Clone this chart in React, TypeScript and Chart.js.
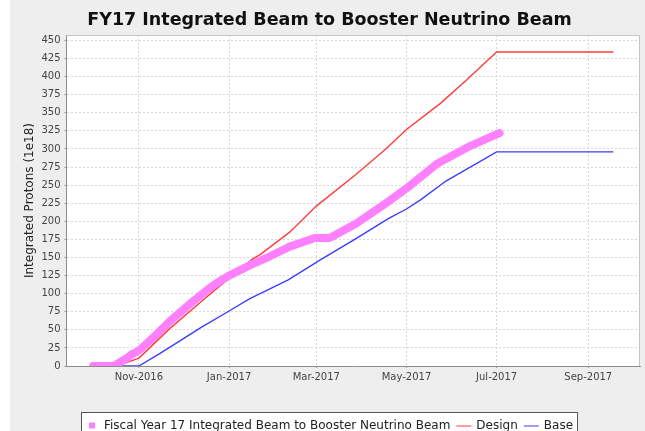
import { useEffect, useRef } from "react";
import { Chart, registerables } from "chart.js";

Chart.register(...registerables);

const titleText = "FY17 Integrated Beam to Booster Neutrino Beam";
const yAxisTitle = "Integrated Protons (1e18)";

const beamLabel = "Fiscal Year 17 Integrated Beam to Booster Neutrino Beam";
const beamDates = [
  "2016-10-01", "2016-10-15", "2016-10-24", "2016-10-27", "2016-10-30", "2016-11-02",
  "2016-11-11", "2016-11-22", "2016-12-08", "2016-12-19", "2016-12-27", "2017-01-02",
  "2017-01-15", "2017-01-29", "2017-02-11", "2017-02-28", "2017-03-10", "2017-03-28",
  "2017-04-15", "2017-05-02", "2017-05-08", "2017-05-22", "2017-06-13", "2017-07-03",
];
const beamValues = [
  0, 0, 11, 16, 19, 23,
  40, 62, 90, 108, 119, 126,
  139, 152, 165, 177, 177, 197,
  222, 247, 257, 280, 304, 322,
];

const designLabel = "Design";
const designDates = [
  "2016-10-01", "2016-10-17", "2016-11-01", "2016-11-22", "2016-12-12", "2016-12-30",
  "2017-01-12", "2017-01-17", "2017-01-22", "2017-02-11", "2017-03-01", "2017-03-28",
  "2017-04-17", "2017-05-01", "2017-05-24", "2017-06-11", "2017-07-01", "2017-09-18",
];
const designValues = [
  0, 0, 11, 52, 87, 118,
  140, 148, 154, 185, 221, 265,
  300, 327, 363, 396, 434, 434,
];

const baseLabel = "Base";
const baseDates = [
  "2016-10-01", "2016-11-01", "2016-11-15", "2016-11-29", "2016-12-12", "2017-01-01",
  "2017-01-15", "2017-01-22", "2017-02-10", "2017-03-04", "2017-03-27", "2017-04-19",
  "2017-05-01", "2017-05-10", "2017-05-28", "2017-07-01", "2017-09-18",
];
const baseValues = [
  0, 0, 17, 35, 52, 76,
  93, 100, 119, 147, 175, 204,
  217, 229, 256, 296, 296,
];

const xTickDates = ["2016-11-01", "2017-01-01", "2017-03-01", "2017-05-01", "2017-07-01", "2017-09-01"];
const monthNames = ["Jan", "Feb", "Mar", "Apr", "May", "Jun", "Jul", "Aug", "Sep", "Oct", "Nov", "Dec"];
const yTickValues = [0, 25, 50, 75, 100, 125, 150, 175, 200, 225, 250, 275, 300, 325, 350, 375, 400, 425, 450];
const xAxisStart = "2016-09-13";
const xAxisEnd = "2017-10-06";
const yAxisMin = 0;
const yAxisMax = 457.5;

const DAY = 86400000;
const toDay = (s: string) => {
  const [y, m, d] = s.split("-").map(Number);
  return Date.UTC(y, m - 1, d) / DAY;
};
const fmtDay = (v: number) => {
  const dt = new Date(Math.round(v) * DAY);
  return `${monthNames[dt.getUTCMonth()]}-${dt.getUTCFullYear()}`;
};
const pts = (dates: string[], vals: number[]) => dates.map((d, i) => ({ x: toDay(d), y: vals[i] }));

const FONT = "'DejaVu Sans', sans-serif";
const PINK = "#ff80ff";
const RED = "#ff3c3c";
const BLUE = "#3c3cff";
const CENTER_X = 329.5;

export default function App() {
  const ref = useRef<HTMLCanvasElement>(null);
  useEffect(() => {
    document.body.style.margin = "0";
    const canvas = ref.current!;
    const decor = {
      id: "decor",
      beforeDraw(chart: any) {
        const { ctx, width, height, chartArea: a } = chart;
        ctx.save();
        ctx.fillStyle = "#ffffff";
        ctx.fillRect(0, 0, width, height);
        ctx.fillStyle = "#eeeeee";
        ctx.fillRect(10, 0, width - 10, height);
        ctx.fillStyle = "#ffffff";
        ctx.fillRect(a.left, a.top, a.right - a.left, a.bottom - a.top);
        ctx.restore();
      },
      afterDraw(chart: any) {
        const { ctx, chartArea: a } = chart;
        ctx.save();
        ctx.strokeStyle = "#c4c4c4";
        ctx.lineWidth = 1;
        ctx.beginPath();
        ctx.moveTo(a.left, a.top + 0.5);
        ctx.lineTo(a.right - 0.5, a.top + 0.5);
        ctx.lineTo(a.right - 0.5, a.bottom);
        ctx.stroke();
        ctx.fillStyle = "#111";
        ctx.font = `bold 17.5px ${FONT}`;
        ctx.textAlign = "center";
        ctx.textBaseline = "middle";
        ctx.fillText(titleText, CENTER_X, 20);
        const ds = chart.data.datasets;
        ctx.font = `12px ${FONT}`;
        ctx.textAlign = "left";
        const w0 = ctx.measureText(ds[0].label).width;
        const w1 = ctx.measureText(ds[1].label).width;
        const w2 = ctx.measureText(ds[2].label).width;
        const padL = 7.5, sq = 6, gapSq = 9, gapLine = 6, lineLen = 15, gapTxt = 5, padR = 4.5;
        const total = padL + sq + gapSq + w0 + gapLine + lineLen + gapTxt + w1 + gapLine + lineLen + gapTxt + w2 + padR;
        const bx = Math.round(CENTER_X - total / 2) + 0.5;
        const by = 412.5;
        const cy = 425.5;
        ctx.fillStyle = "#ffffff";
        ctx.fillRect(bx, by, total, 30);
        ctx.strokeStyle = "#555";
        ctx.strokeRect(bx, by, total, 30);
        let x = bx + padL;
        ctx.fillStyle = ds[0].borderColor;
        ctx.fillRect(x, cy - 3, sq, sq);
        x += sq + gapSq;
        ctx.fillStyle = "#222";
        ctx.textBaseline = "middle";
        ctx.fillText(ds[0].label, x, cy);
        x += w0 + gapLine;
        for (const [i, w] of [[1, w1], [2, w2]] as [number, number][]) {
          ctx.strokeStyle = ds[i].borderColor;
          ctx.lineWidth = 1;
          ctx.beginPath();
          ctx.moveTo(x, cy + 0.5);
          ctx.lineTo(x + lineLen, cy + 0.5);
          ctx.stroke();
          x += lineLen + gapTxt;
          ctx.fillStyle = "#222";
          ctx.fillText(ds[i].label, x, cy);
          x += w + gapLine;
        }
        ctx.restore();
      },
    };

    const chart = new Chart(canvas, {
      type: "line",
      data: {
        datasets: [
          {
            label: beamLabel,
            data: pts(beamDates, beamValues),
            borderColor: PINK,
            backgroundColor: PINK,
            borderWidth: 8,
            borderCapStyle: "round",
            borderJoinStyle: "round",
            pointRadius: 0,
            clip: 0,
          },
          {
            label: designLabel,
            data: pts(designDates, designValues),
            borderColor: RED,
            backgroundColor: RED,
            borderWidth: 1.4,
            pointRadius: 0,
            clip: 0,
          },
          {
            label: baseLabel,
            data: pts(baseDates, baseValues),
            borderColor: BLUE,
            backgroundColor: BLUE,
            borderWidth: 1.4,
            pointRadius: 0,
            clip: 0,
          },
        ],
      } as any,
      options: {
        animation: false,
        responsive: false,
        devicePixelRatio: 1,
        layout: { padding: { left: 0, right: 5, top: 35, bottom: 35 } },
        plugins: {
          legend: { display: false },
          title: { display: false },
          tooltip: { enabled: false },
        },
        scales: {
          x: {
            type: "linear",
            min: toDay(xAxisStart),
            max: toDay(xAxisEnd),
            afterBuildTicks: (axis: any) => {
              axis.ticks = xTickDates.map((d) => ({ value: toDay(d) }));
            },
            afterFit: (axis: any) => {
              axis.height = 30;
            },
            ticks: {
              callback: (v: any) => fmtDay(Number(v)),
              font: { family: FONT, size: 10 },
              color: "#444",
              padding: 3,
              maxRotation: 0,
              autoSkip: false,
            },
            grid: {
              color: "#d8d8d8",
              tickLength: 2,
              tickColor: "#999",
            },
            border: { display: true, color: "#8c8c8c", dash: [2, 2] },
          },
          y: {
            type: "linear",
            min: yAxisMin,
            max: yAxisMax,
            ticks: {
              font: { family: FONT, size: 10 },
              color: "#444",
              padding: 4,
              autoSkip: false,
            },
            afterBuildTicks: (axis: any) => {
              axis.ticks = yTickValues.map((v) => ({ value: v }));
            },
            afterFit: (axis: any) => {
              axis.width = 66.5;
            },
            grid: {
              color: "#d8d8d8",
              tickLength: 2,
              tickColor: "#999",
            },
            border: { display: true, color: "#8c8c8c", dash: [2, 2] },
            title: {
              display: true,
              text: yAxisTitle,
              font: { family: FONT, size: 12 },
              color: "#222",
              padding: { top: 23, bottom: 0 },
            },
          },
        },
      } as any,
      plugins: [decor],
    });
    return () => chart.destroy();
  }, []);
  return <canvas ref={ref} width={645} height={431} style={{ display: "block" }} />;
}
